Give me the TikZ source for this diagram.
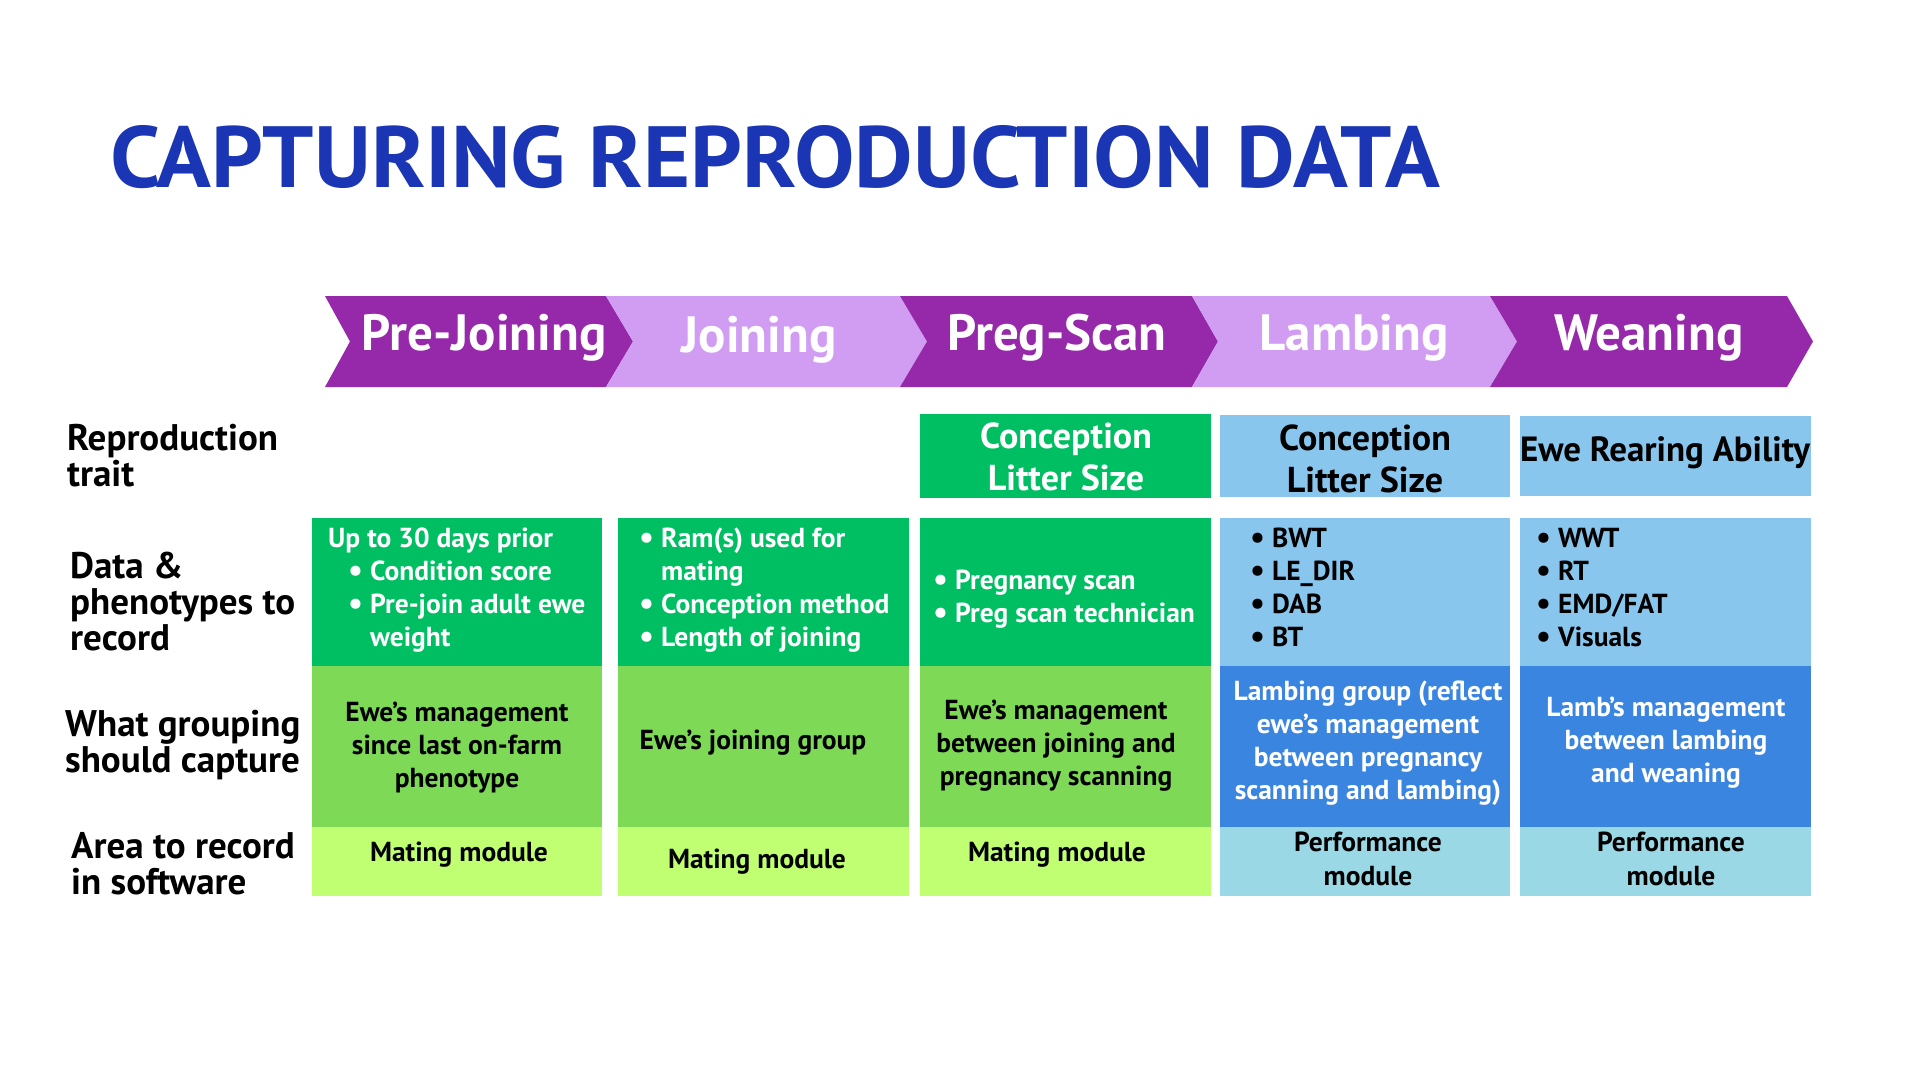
\documentclass[tikz,border=0pt]{standalone}
\usepackage{fontspec}
\setmainfont{PT Sans}
\definecolor{titleblue}{RGB}{27,54,180}
\definecolor{dpurple}{RGB}{150,41,170}
\definecolor{lpurple}{RGB}{208,157,243}
\definecolor{gA}{RGB}{0,191,99}
\definecolor{gB}{RGB}{126,217,87}
\definecolor{gC}{RGB}{193,255,114}
\definecolor{bA}{RGB}{137,198,237}
\definecolor{bB}{RGB}{58,133,224}
\definecolor{bC}{RGB}{154,216,230}
\newcommand\blt{\makebox[22pt][l]{\raisebox{-1pt}{\scalebox{1.2}{\textbullet}}}}
\begin{document}
\begin{tikzpicture}[x=1pt,y=-1pt,
  box/.style={inner sep=0pt, outer sep=0pt, draw=none, anchor=north west},
  rowlbl/.style={font=\fontsize{37}{36}\selectfont\bfseries, align=left, anchor=west, inner sep=0pt, text=black},
  hd/.style={font=\fontsize{51}{52}\selectfont\bfseries, text=white, inner sep=0pt},
  body/.style={font=\fontsize{27.5}{33}\selectfont\bfseries, inner sep=0pt},
  lst/.style={body, align=left, anchor=north west},
  ctr/.style={body, align=center},
  trait/.style={font=\fontsize{36}{42}\selectfont\bfseries, align=center, inner sep=0pt},
  chev/.style={draw=none}]
\useasboundingbox (0,0) rectangle (1920,1080);
\fill[white] (0,0) rectangle (1920,1080);

% title
\node[anchor=base west, inner sep=0pt, text=titleblue] (title) at (110,187)
  {\resizebox{1329pt}{62pt}{\bfseries CAPTURING REPRODUCTION DATA}};

% chevrons
\fill[dpurple] (325,296) -- (606,296) -- (633,341.5) -- (606,387) -- (325,387) -- (350,341.5) -- cycle;
\fill[lpurple] (606,296) -- (900,296) -- (927,341.5) -- (900,387) -- (606,387) -- (633,341.5) -- cycle;
\fill[dpurple] (900,296) -- (1192,296) -- (1218,341.5) -- (1192,387) -- (900,387) -- (927,341.5) -- cycle;
\fill[lpurple] (1192,296) -- (1490,296) -- (1517,341.5) -- (1490,387) -- (1192,387) -- (1218,341.5) -- cycle;
\fill[dpurple] (1490,296) -- (1787,296) -- (1813,341.5) -- (1787,387) -- (1490,387) -- (1517,341.5) -- cycle;
\node[hd] (h1) at (484,338) {Pre-Joining};
\node[hd] (h2) at (759,340) {Joining};
\node[hd] (h3) at (1057,338) {Preg-Scan};
\node[hd] (h4) at (1354,338) {Lambing};
\node[hd] (h5) at (1649,338) {Weaning};

% row labels
\node[rowlbl] (r1) at (67,456) {Reproduction\\trait};
\node[rowlbl] (r2) at (70,602) {Data \&\\phenotypes to\\record};
\node[rowlbl] (r3) at (65,745) {What grouping\\should capture};
\node[rowlbl] (r4) at (71,864) {Area to record\\in software};

% trait row
\node[box, fill=gA, minimum width=291pt, minimum height=84pt] (t3) at (920,414) {};
\node[box, fill=bA, minimum width=290pt, minimum height=82pt] (t4) at (1220,415) {};
\node[box, fill=bA, minimum width=291pt, minimum height=80pt] (t5) at (1520,416) {};
\node[trait, text=white] (t3t) at (1066,457) {Conception\\Litter Size};
\node[trait, text=black] (t4t) at (1365,459) {Conception\\Litter Size};
\node[trait, text=black, font=\fontsize{35}{42}\selectfont\bfseries] (t5t) at (1665,453) {Ewe Rearing Ability};

% data row
\node[box, fill=gA, minimum width=290pt, minimum height=149pt] (d1) at (312,518) {};
\node[box, fill=gA, minimum width=291pt, minimum height=149pt] (d2) at (618,518) {};
\node[box, fill=gA, minimum width=291pt, minimum height=149pt] (d3) at (920,518) {};
\node[box, fill=bA, minimum width=290pt, minimum height=149pt] (d4) at (1220,518) {};
\node[box, fill=bA, minimum width=291pt, minimum height=149pt] (d5) at (1520,518) {};
\node[lst, text=white] (d1t) at (328,528) {Up to 30 days prior\\
  \hspace*{20pt}\blt Condition score\\
  \hspace*{20pt}\blt Pre-join adult ewe\\
  \hspace*{42pt}weight};
\node[lst, text=white] (d2t) at (639,528) {\blt Ram(s) used for\\
  \hspace*{22pt}mating\\
  \blt Conception method\\
  \blt Length of joining};
\node[lst, text=white] (d3t) at (933,570) {\blt Pregnancy scan\\
  \blt Preg scan technician};
\node[lst, text=black] (d4t) at (1250,528) {\blt BWT\\ \blt LE\_DIR\\ \blt DAB\\ \blt BT};
\node[lst, text=black] (d5t) at (1536,528) {\blt WWT\\ \blt RT\\ \blt EMD/FAT\\ \blt Visuals};

% grouping row
\node[box, fill=gB, minimum width=290pt, minimum height=161pt] (g1) at (312,666) {};
\node[box, fill=gB, minimum width=291pt, minimum height=161pt] (g2) at (618,666) {};
\node[box, fill=gB, minimum width=291pt, minimum height=161pt] (g3) at (920,666) {};
\node[box, fill=bB, minimum width=290pt, minimum height=161pt] (g4) at (1220,666) {};
\node[box, fill=bB, minimum width=291pt, minimum height=161pt] (g5) at (1520,666) {};
\node[ctr, text=black] (g1t) at (457,748) {Ewe’s management\\since last on-farm\\phenotype};
\node[ctr, text=black] (g2t) at (753,743) {Ewe’s joining group};
\node[ctr, text=black] (g3t) at (1056,746) {Ewe’s management\\between joining and\\pregnancy scanning};
\node[ctr, text=white] (g4t) at (1368,743) {Lambing group (reflect\\ewe’s management\\between pregnancy\\scanning and lambing)};
\node[ctr, text=white] (g5t) at (1666,743) {Lamb’s management\\between lambing\\and weaning};

% area row
\node[box, fill=gC, minimum width=290pt, minimum height=69pt] (a1) at (312,827) {};
\node[box, fill=gC, minimum width=291pt, minimum height=69pt] (a2) at (618,827) {};
\node[box, fill=gC, minimum width=291pt, minimum height=69pt] (a3) at (920,827) {};
\node[box, fill=bC, minimum width=290pt, minimum height=69pt] (a4) at (1220,827) {};
\node[box, fill=bC, minimum width=291pt, minimum height=69pt] (a5) at (1520,827) {};
\node[ctr, text=black] (a1t) at (459,855) {Mating module};
\node[ctr, text=black] (a2t) at (757,862) {Mating module};
\node[ctr, text=black] (a3t) at (1057,855) {Mating module};
\node[ctr, text=black, font=\fontsize{27.5}{34}\selectfont\bfseries] (a4t) at (1368,859) {Performance\\module};
\node[ctr, text=black, font=\fontsize{27.5}{34}\selectfont\bfseries] (a5t) at (1671,859) {Performance\\module};
\end{tikzpicture}
\end{document}
